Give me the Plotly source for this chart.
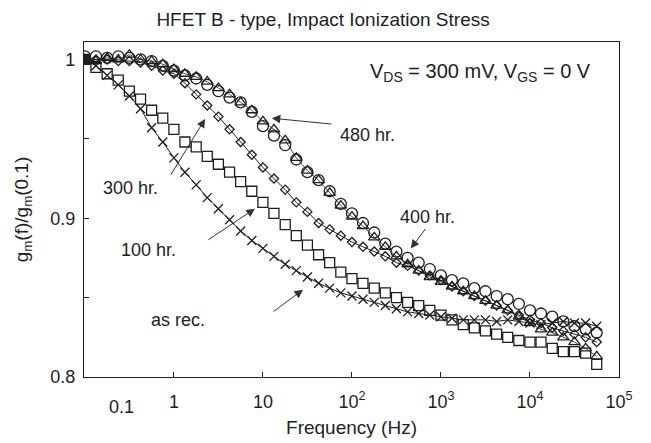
import math
import plotly.graph_objects as go

# frequency points (Hz), ~8 per decade
freq = [0.1, 0.133, 0.178, 0.237, 0.316, 0.422, 0.562, 0.75,
        1, 1.33, 1.78, 2.37, 3.16, 4.22, 5.62, 7.5,
        10, 13.3, 17.8, 23.7, 31.6, 42.2, 56.2, 75,
        100, 133, 178, 237, 316, 422, 562, 750,
        1000, 1330, 1780, 2370, 3160, 4220, 5620, 7500,
        10000, 13300, 17800, 23700, 31600, 42200, 56200]

# g_m(f)/g_m(0.1)
as_rec = [1.000, 0.996, 0.990, 0.984, 0.977, 0.969, 0.957, 0.948,
          0.938, 0.929, 0.921, 0.913, 0.906, 0.899, 0.892, 0.886,
          0.881, 0.876, 0.871, 0.867, 0.863, 0.859, 0.856, 0.853,
          0.851, 0.849, 0.847, 0.845, 0.843, 0.841, 0.840, 0.839,
          0.838, 0.837, 0.836, 0.836, 0.836, 0.835, 0.836, 0.835,
          0.834, 0.833, 0.834, 0.835, 0.834, 0.834, 0.832]
hr100 = [1.000, 0.995, 0.991, 0.987, 0.980, 0.975, 0.968, 0.963,
         0.956, 0.948, 0.945, 0.939, 0.934, 0.929, 0.923, 0.917,
         0.910, 0.903, 0.896, 0.889, 0.883, 0.877, 0.872, 0.866,
         0.862, 0.859, 0.856, 0.853, 0.850, 0.847, 0.845, 0.842,
         0.839, 0.836, 0.833, 0.831, 0.829, 0.827, 0.825, 0.823,
         0.822, 0.822, 0.818, 0.816, 0.816, 0.815, 0.808]
hr300 = [1.000, 1.000, 1.000, 0.999, 0.999, 0.998, 0.996, 0.993,
         0.991, 0.985, 0.978, 0.971, 0.964, 0.956, 0.948, 0.940,
         0.932, 0.925, 0.918, 0.910, 0.904, 0.897, 0.893, 0.889,
         0.885, 0.882, 0.879, 0.876, 0.872, 0.870, 0.867, 0.864,
         0.861, 0.857, 0.854, 0.851, 0.848, 0.845, 0.842, 0.839,
         0.836, 0.834, 0.831, 0.829, 0.827, 0.825, 0.822]
hr400 = [1.002, 1.002, 1.001, 1.002, 1.001, 1.000, 0.999, 0.996,
         0.993, 0.990, 0.988, 0.984, 0.980, 0.976, 0.973, 0.967,
         0.958, 0.952, 0.946, 0.937, 0.929, 0.924, 0.917, 0.909,
         0.903, 0.897, 0.891, 0.884, 0.879, 0.875, 0.872, 0.868,
         0.864, 0.861, 0.859, 0.856, 0.854, 0.851, 0.849, 0.846,
         0.842, 0.840, 0.838, 0.835, 0.832, 0.830, 0.828]
hr480 = [1.000, 0.999, 1.001, 1.000, 1.003, 1.000, 0.999, 0.997,
         0.994, 0.991, 0.989, 0.986, 0.982, 0.978, 0.973, 0.968,
         0.961, 0.956, 0.949, 0.938, 0.930, 0.924, 0.916, 0.908,
         0.901, 0.895, 0.888, 0.882, 0.876, 0.871, 0.867, 0.863,
         0.860, 0.857, 0.854, 0.851, 0.848, 0.845, 0.842, 0.838,
         0.834, 0.830, 0.828, 0.825, 0.822, 0.818, 0.813]

start_f = [0.1]
start_g = [1.0]

x_tickvals = [1, 10, 100, 1000, 10000, 100000]
x_ticktext = ["1", "10", "10<sup>2</sup>", "10<sup>3</sup>", "10<sup>4</sup>", "10<sup>5</sup>"]
y_tickvals = [0.8, 0.85, 0.9, 0.95, 1.0]
y_ticktext = ["0.8", "", "0.9", "", "1"]

ink = "#1e1e1e"
font = "Liberation Sans, Arial, sans-serif"

fig = go.Figure()

def add_series(y, symbol, size, line=True, lw=1.0):
    fig.add_trace(go.Scatter(
        x=freq, y=y,
        mode="lines+markers" if line else "markers",
        line=dict(color=ink, width=lw),
        marker=dict(symbol=symbol, size=size, color=ink,
                    line=dict(color=ink, width=1.3)),
        showlegend=False,
    ))

add_series(hr100, "square-open", 10, line=False)
add_series(hr400, "circle-open", 11, line=False)
add_series(hr480, "triangle-up-open", 10, line=True, lw=0.8)
add_series(hr300, "diamond-open", 7, line=True)
add_series(as_rec, "x-thin", 9, line=True)

fig.add_trace(go.Scatter(x=start_f, y=start_g, mode="markers",
                         marker=dict(symbol="square", size=9, color=ink),
                         showlegend=False))

# curve labels with arrows
labels = [
    ("480 hr.", 2.18, 0.9525, 10 ** 1.10, 0.963, 61, 6),
    ("400 hr.", 2.85, 0.901, 10 ** 2.66, 0.881, 16, -21),
    ("300 hr.", -0.49, 0.919, 10 ** 0.35, 0.9625, -35, 57),
    ("100 hr.", -0.29, 0.880, 10 ** 0.91, 0.906, -48, 32),
    ("as rec.", 0.045, 0.836, 10 ** 1.45, 0.855, -31, 23),
]
for text, tx, ty, hx, hy, ax, ay in labels:
    fig.add_annotation(x=tx, y=ty, text=text, showarrow=False,
                       font=dict(size=18, color=ink, family=font))
    fig.add_annotation(x=math.log10(hx), y=hy, text="",
                       showarrow=True, ax=ax, ay=ay,
                       arrowhead=2, arrowsize=1.7, arrowwidth=1,
                       arrowcolor="#333333", standoff=0, startstandoff=0)

fig.add_annotation(x=0.742, y=0.91, xref="paper", yref="paper",
                   xanchor="center", yanchor="middle",
                   text="V<sub>DS</sub> = 300 mV, V<sub>GS</sub> = 0 V",
                   showarrow=False, font=dict(size=20, color=ink, family=font))
fig.add_annotation(x=-0.59, y=-0.055, yref="paper", text="0.1",
                   showarrow=False, yanchor="top",
                   font=dict(size=18, color=ink, family=font))

# page body adds 8px around the figure
fig.update_layout(
    width=643, height=435,
    margin=dict(l=76, r=32, t=34, b=66),
    paper_bgcolor="white", plot_bgcolor="white",
    font=dict(family=font, size=18, color=ink),
    title=dict(text="HFET B - type, Impact Ionization Stress",
               x=0.49, xanchor="center", y=0.99, yanchor="top",
               pad=dict(t=0), font=dict(size=19)),
)
fig.update_xaxes(type="log", range=[-1.01, 5.0], automargin=False,
                 tickvals=x_tickvals, ticktext=x_ticktext,
                 ticks="inside", ticklen=5, tickcolor=ink,
                 ticklabelstandoff=8,
                 showline=True, linecolor=ink, linewidth=1.2, mirror=True,
                 showgrid=False, zeroline=False,
                 title=dict(text="Frequency (Hz)", standoff=9, font=dict(size=19)))
fig.update_yaxes(range=[0.8, 1.011], automargin=False,
                 tickvals=y_tickvals, ticktext=y_ticktext,
                 ticks="inside", ticklen=5, tickcolor=ink,
                 ticklabelstandoff=4,
                 showline=True, linecolor=ink, linewidth=1.2, mirror=True,
                 showgrid=False, zeroline=False,
                 title=dict(text="g<sub>m</sub>(f)/g<sub>m</sub>(0.1)", standoff=16, font=dict(size=19)))

fig.write_html("out.html")
